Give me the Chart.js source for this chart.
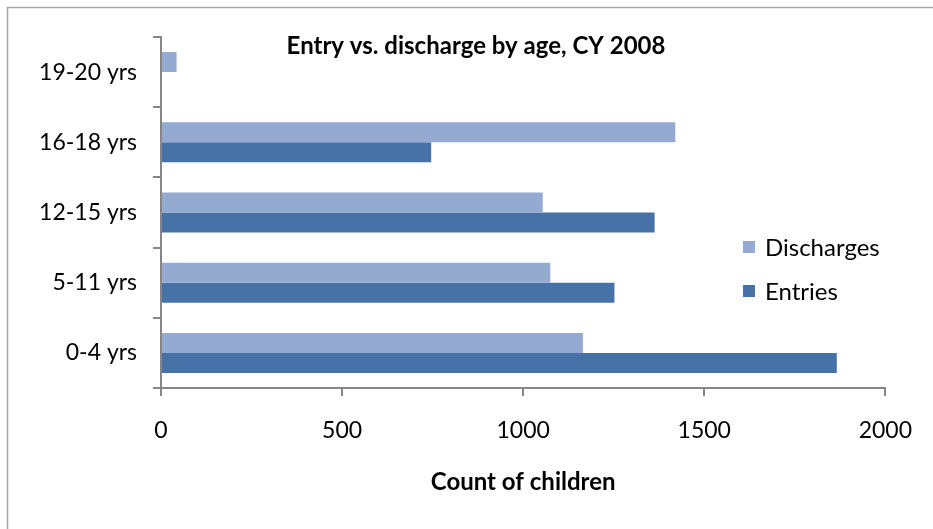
<!DOCTYPE html>
<html>
<head>
<meta charset="utf-8">
<script src="https://cdn.jsdelivr.net/npm/chart.js@4/dist/chart.umd.min.js"></script>
<style>
  html, body { margin: 0; padding: 0; background: #fff; }
  #wrap { width: 933px; height: 529px; position: relative; }
</style>
</head>
<body>
<div id="wrap"><canvas id="c" width="933" height="529"></canvas></div>
<script>
const categories = ['19-20 yrs', '16-18 yrs', '12-15 yrs', '5-11 yrs', '0-4 yrs'];
const discharges = [43, 1420, 1054, 1075, 1165];
const entries = [0, 746, 1363, 1252, 1866];
const xTicks = [0, 500, 1000, 1500, 2000];
const titleText = 'Entry vs. discharge by age, CY 2008';
const xAxisTitle = 'Count of children';

const FONT = 'Lato, "Open Sans", "Liberation Sans", sans-serif';

const decor = {
  id: 'decor',
  beforeDraw(chart) {
    const ctx = chart.ctx;
    ctx.save();
    ctx.fillStyle = '#fff';
    ctx.fillRect(0, 0, chart.width, chart.height);
    ctx.strokeStyle = '#a6a6a6';
    ctx.lineWidth = 1.5;
    ctx.beginPath();
    ctx.moveTo(7.5, chart.height);
    ctx.lineTo(7.5, 7.5);
    ctx.lineTo(chart.width, 7.5);
    ctx.stroke();
    ctx.restore();
  },
  afterDraw(chart) {
    const ctx = chart.ctx;
    ctx.save();
    ctx.fillStyle = '#000';
    ctx.textBaseline = 'middle';
    ctx.textAlign = 'center';
    ctx.font = 'bold 24px ' + FONT;
    ctx.fillText(titleText, 476, 46);
    // legend
    ctx.textAlign = 'left';
    ctx.font = '24px ' + FONT;
    const items = chart.data.datasets;
    const ys = [247, 291];
    items.forEach((ds, i) => {
      ctx.fillStyle = ds.backgroundColor;
      ctx.fillRect(743, ys[i] - 6, 12, 12);
      ctx.fillStyle = '#000';
      ctx.fillText(ds.label, 765, ys[i] + 1);
    });
    ctx.restore();
  }
};

new Chart(document.getElementById('c'), {
  type: 'bar',
  data: {
    labels: categories,
    datasets: [
      { label: 'Discharges', data: discharges, backgroundColor: '#95AAD1', borderWidth: 0 },
      { label: 'Entries', data: entries, backgroundColor: '#4672A8', borderWidth: 0 }
    ]
  },
  options: {
    indexAxis: 'y',
    responsive: false,
    animation: false,
    devicePixelRatio: 1,
    layout: { padding: { left: 8, top: 37, right: 44, bottom: 0 } },
    datasets: { bar: { categoryPercentage: 0.57, barPercentage: 1.0 } },
    plugins: {
      legend: { display: false },
      title: { display: false },
      tooltip: { enabled: false }
    },
    scales: {
      x: {
        min: 0, max: 2000,
        afterBuildTicks: (s) => { s.ticks = xTicks.map(v => ({ value: v })); },
        afterFit: (s) => { s.height = 141; },
        grid: { drawOnChartArea: false, drawTicks: true, tickLength: 8, color: '#868686', lineWidth: 2 },
        border: { display: true, color: '#868686', width: 2 },
        ticks: { color: '#000', font: { family: FONT, size: 23 }, padding: 21, maxRotation: 0,
                 callback: (v) => String(v) },
        title: { display: true, text: xAxisTitle, color: '#000', font: { family: FONT, size: 24, weight: 'bold' }, padding: { top: 18, bottom: 32 } }
      },
      y: {
        afterFit: (s) => { s.width = 153; },
        grid: { drawOnChartArea: false, drawTicks: true, tickLength: 8, color: '#868686', lineWidth: 2, offset: true },
        border: { display: true, color: '#868686', width: 2 },
        ticks: { color: '#000', font: { family: FONT, size: 23 }, padding: 16 }
      }
    }
  },
  plugins: [decor]
});
</script>
</body>
</html>
